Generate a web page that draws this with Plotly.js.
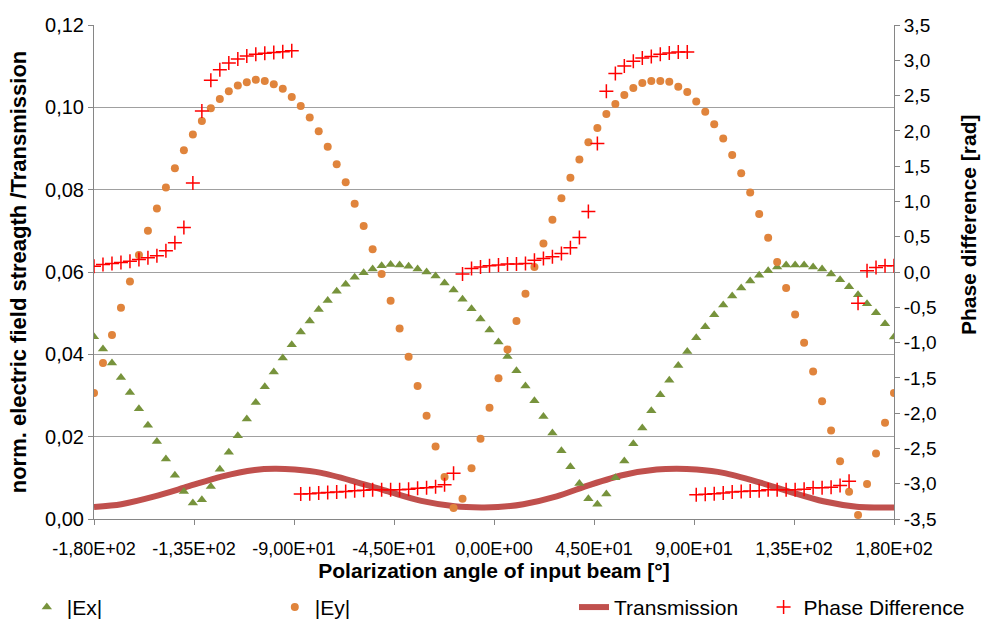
<!DOCTYPE html>
<html>
<head>
<meta charset="utf-8">
<script src="https://cdn.plot.ly/plotly-3.0.1.min.js"></script>
<style>
html,body{margin:0;padding:0;background:#fff;}
#chart{width:983px;height:619px;}
</style>
</head>
<body>
<div id="chart"></div>
<script>
// Polarization angle of input beam [deg]
const angle = [-180.00,-175.96,-171.91,-167.87,-163.82,-159.78,-155.73,-151.69,-147.64,-143.60,
  -139.55,-135.51,-131.46,-127.42,-123.37,-119.33,-115.28,-111.24,-107.19,-103.15,
  -99.10,-95.06,-91.01,-86.97,-82.92,-78.88,-74.83,-70.79,-66.74,-62.70,
  -58.65,-54.61,-50.56,-46.52,-42.47,-38.43,-34.38,-30.34,-26.29,-22.25,
  -18.20,-14.16,-10.11,-6.07,-2.02,2.02,6.07,10.11,14.16,18.20,
  22.25,26.29,30.34,34.38,38.43,42.47,46.52,50.56,54.61,58.65,
  62.70,66.74,70.79,74.83,78.88,82.92,86.97,91.01,95.06,99.10,
  103.15,107.19,111.24,115.28,119.33,123.37,127.42,131.46,135.51,139.55,
  143.60,147.64,151.69,155.73,159.78,163.82,167.87,171.91,175.96,180.00];

const ex = [0.0443,0.0413,0.0379,0.0344,0.0307,0.0268,0.0228,0.0188,0.0146,0.0106,
  0.0067,0.0039,0.0047,0.0079,0.0121,0.0162,0.0202,0.0243,0.0283,0.0321,
  0.0357,0.0391,0.0423,0.0454,0.0481,0.0509,0.0531,0.0553,0.0570,0.0587,
  0.0598,0.0607,0.0615,0.0618,0.0617,0.0614,0.0607,0.0600,0.0590,0.0573,
  0.0556,0.0534,0.0511,0.0486,0.0459,0.0430,0.0395,0.0360,0.0323,0.0287,
  0.0249,0.0209,0.0166,0.0127,0.0086,0.0049,0.0036,0.0061,0.0100,0.0141,
  0.0183,0.0221,0.0263,0.0302,0.0337,0.0373,0.0407,0.0440,0.0467,0.0496,
  0.0520,0.0542,0.0561,0.0578,0.0592,0.0603,0.0612,0.0617,0.0617,0.0617,
  0.0612,0.0607,0.0595,0.0581,0.0564,0.0545,0.0523,0.0501,0.0474,0.0442];

const ey = [0.0306,0.0379,0.0447,0.0513,0.0577,0.0641,0.0700,0.0754,0.0805,0.0852,
  0.0896,0.0934,0.0967,0.0998,0.1020,0.1039,0.1053,0.1061,0.1067,0.1064,
  0.1056,0.1045,0.1025,0.1003,0.0975,0.0942,0.0904,0.0862,0.0818,0.0766,
  0.0712,0.0655,0.0595,0.0530,0.0463,0.0394,0.0323,0.0251,0.0176,0.0102,
  0.0027,0.0049,0.0123,0.0195,0.0270,0.0342,0.0412,0.0481,0.0547,0.0612,
  0.0669,0.0727,0.0779,0.0829,0.0873,0.0915,0.0950,0.0984,0.1008,0.1030,
  0.1047,0.1059,0.1064,0.1064,0.1062,0.1050,0.1037,0.1014,0.0989,0.0959,
  0.0924,0.0884,0.0840,0.0793,0.0741,0.0683,0.0624,0.0561,0.0497,0.0428,
  0.0358,0.0286,0.0215,0.0140,0.0066,0.0010,0.0085,0.0159,0.0234,0.0306];

const phase = [0.083,0.107,0.121,0.136,0.154,0.178,0.201,0.229,0.300,0.413,
  0.631,1.262,2.281,2.716,2.867,2.961,3.017,3.060,3.084,3.098,
  3.112,3.122,3.136,-3.147,-3.143,-3.133,-3.124,-3.119,-3.110,-3.101,
  -3.091,-3.087,-3.087,-3.087,-3.087,-3.077,-3.063,-3.058,-3.044,-3.016,
  -2.850,-0.030,0.051,0.071,0.088,0.098,0.112,0.112,0.122,0.168,
  0.192,0.215,0.263,0.342,0.490,0.858,1.820,2.560,2.811,2.918,
  2.985,3.032,3.055,3.084,3.102,3.116,3.116,-3.155,-3.148,-3.143,
  -3.133,-3.119,-3.110,-3.105,-3.101,-3.087,-3.087,-3.087,-3.087,-3.077,
  -3.058,-3.058,-3.049,-3.026,-2.964,-0.444,0.017,0.065,0.088,0.088];

const transAngle = [-180,-167.7,-152.7,-137.7,-122.7,-107.7,-98.7,-89.7,-77.7,-62.7,-47.7,-32.7,-17.7,-5.7,
  1.8,13.2,28.2,43.2,58.2,73.2,82.2,91.2,103.2,118.2,133.2,148.2,163.2,180];
const transmission = [0.0029,0.0036,0.0055,0.0079,0.0103,0.0119,0.0122,0.0120,0.0112,0.0091,0.0067,0.0044,0.0031,0.0028,
  0.0029,0.0036,0.0055,0.0083,0.0107,0.0120,0.0122,0.0120,0.0112,0.0091,0.0066,0.0043,0.0030,0.0028];

const xTickVals = [-180,-135,-90,-45,0,45,90,135,180];
const xTickText = ['-1,80E+02','-1,35E+02','-9,00E+01','-4,50E+01','0,00E+00','4,50E+01','9,00E+01','1,35E+02','1,80E+02'];
const yTickVals = [0,0.02,0.04,0.06,0.08,0.10,0.12];
const yTickText = ['0,00','0,02','0,04','0,06','0,08','0,10','0,12'];
const y2TickVals = [-3.5,-3,-2.5,-2,-1.5,-1,-0.5,0,0.5,1,1.5,2,2.5,3,3.5];
const y2TickText = ['-3,5','-3,0','-2,5','-2,0','-1,5','-1,0','-0,5','0,0','0,5','1,0','1,5','2,0','2,5','3,0','3,5'];
const y2Title = 'Phase difference [rad]';

const FONT = 'Liberation Sans, Arial, sans-serif';
const AX = '#868686';

const traces = [
  {x: transAngle, y: transmission, name: 'Transmission', type: 'scatter', mode: 'lines',
   line: {color: '#C0504D', width: 6, shape: 'spline', smoothing: 0.8}, legend: 'legend3'},
  {x: angle, y: ex, name: '|Ex|', type: 'scatter', mode: 'markers',
   marker: {symbol: 'triangle-up', size: 9, color: '#77933C'}, legend: 'legend'},
  {x: angle, y: ey, name: '|Ey|', type: 'scatter', mode: 'markers',
   marker: {symbol: 'circle', size: 8, color: '#E0843C'}, legend: 'legend2'},
  {x: angle, y: phase, name: 'Phase Difference', type: 'scatter', mode: 'markers', yaxis: 'y2',
   marker: {symbol: 'cross-thin', size: 10, color: '#FF0000', line: {color: '#FF0000', width: 1.5}}, legend: 'legend4'}
];

function leg(x){
  return {x: x, y: -0.179, xanchor: 'left', yanchor: 'middle', orientation: 'h',
    bgcolor: 'rgba(0,0,0,0)', font: {family: FONT, size: 21, color: '#000'}};
}

const layout = {
  width: 983, height: 619,
  margin: {l: 94, r: 89, t: 25, b: 100, autoexpand: false},
  paper_bgcolor: '#fff', plot_bgcolor: '#fff',
  font: {family: FONT, color: '#000'},
  showlegend: true,
  legend: leg(-0.084),
  legend2: leg(0.226),
  legend3: leg(0.6),
  legend4: leg(0.837),
  xaxis: {
    range: [-180, 180], tickvals: xTickVals, ticktext: xTickText,
    ticks: 'outside', ticklen: 5, tickcolor: AX, showline: true, linecolor: AX, linewidth: 1,
    showgrid: false, zeroline: false, ticklabelstandoff: 8,
    tickfont: {family: FONT, size: 18, color: '#000'},
    title: {text: '<b>Polarization angle of input beam [°]</b>', font: {family: FONT, size: 21, color: '#000'}, standoff: 4}
  },
  yaxis: {
    range: [0, 0.12], tickvals: yTickVals, ticktext: yTickText,
    ticks: 'outside', ticklen: 5, tickcolor: AX, showline: true, linecolor: AX, linewidth: 1,
    showgrid: true, gridcolor: '#A0A0A0', gridwidth: 1, zeroline: false,
    tickfont: {family: FONT, size: 20, color: '#000'},
    title: {text: '<b>norm. electric field streagth /Transmission</b>', font: {family: FONT, size: 22, color: '#000'}, standoff: 12}
  },
  yaxis2: {
    overlaying: 'y', side: 'right', range: [-3.5, 3.5], tickvals: y2TickVals, ticktext: y2TickText,
    ticks: 'outside', ticklen: 5, tickcolor: AX, showline: true, linecolor: AX, linewidth: 1,
    showgrid: false, zeroline: false, tickfont: {family: FONT, size: 19, color: '#000'}
  },
  annotations: [
    {text: '<b>' + y2Title + '</b>', xref: 'paper', yref: 'paper', x: 1.0925, y: 0.595,
     xanchor: 'center', yanchor: 'middle', textangle: -90, showarrow: false,
     font: {family: FONT, size: 21, color: '#000'}}
  ]
};

Plotly.newPlot('chart', traces, layout, {displayModeBar: false, staticPlot: true});
</script>
</body>
</html>
